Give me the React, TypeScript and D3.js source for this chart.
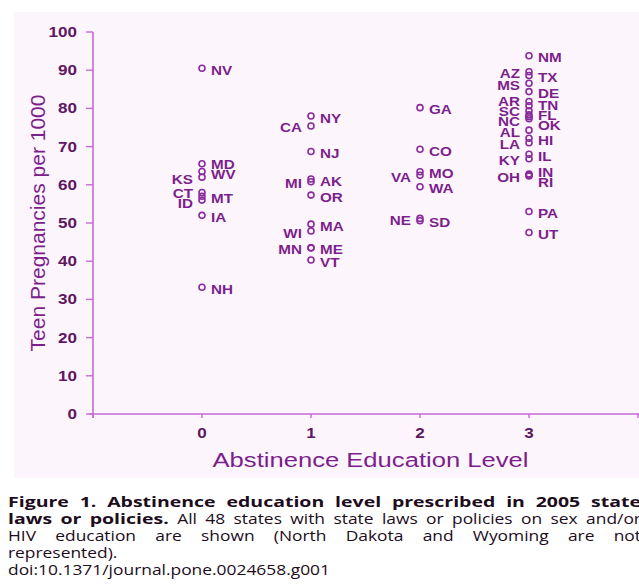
import React, { useMemo } from 'react';
import * as d3 from 'd3';

// ---------- data ----------
const states = [
  'NV', 'MD', 'WV', 'KS', 'CT', 'MT', 'ID', 'IA', 'NH',
  'NY', 'CA', 'NJ', 'AK', 'MI', 'OR', 'MA', 'WI', 'ME', 'MN', 'VT',
  'GA', 'CO', 'MO', 'VA', 'WA', 'NE', 'SD',
  'NM', 'AZ', 'TX', 'MS', 'DE', 'AR', 'TN', 'SC', 'FL', 'NC', 'OK', 'AL', 'HI', 'LA', 'IL', 'KY', 'IN', 'OH', 'RI', 'PA', 'UT',
];
const levels = [
  0, 0, 0, 0, 0, 0, 0, 0, 0,
  1, 1, 1, 1, 1, 1, 1, 1, 1, 1, 1,
  2, 2, 2, 2, 2, 2, 2,
  3, 3, 3, 3, 3, 3, 3, 3, 3, 3, 3, 3, 3, 3, 3, 3, 3, 3, 3, 3, 3,
];
const rates = [
  90.5, 65.5, 63.5, 62, 58, 57, 56, 52, 33.2,
  78, 75.4, 68.7, 61.5, 60.8, 57.3, 49.7, 47.9, 43.5, 43.5, 40.3,
  80.2, 69.3, 63.4, 62.5, 59.5, 51.2, 50.6,
  93.8, 89.6, 88.6, 86.6, 84.4, 81.8, 80.7, 79.4, 78.3, 77.8, 77.3, 74.3, 72.2, 71, 68, 66.8, 62.8, 62.5, 62.3, 53, 47.5,
];
const labelSides = [
  'R', 'R', 'R', 'L', 'L', 'R', 'L', 'R', 'R',
  'R', 'L', 'R', 'R', 'L', 'R', 'R', 'L', 'R', 'L', 'R',
  'R', 'R', 'R', 'L', 'R', 'L', 'R',
  'R', 'L', 'R', 'L', 'R', 'L', 'R', 'L', 'R', 'L', 'R', 'L', 'R', 'L', 'R', 'L', 'R', 'L', 'R', 'R', 'R',
];
const yTicks = [0, 10, 20, 30, 40, 50, 60, 70, 80, 90, 100];
const xTicks = [-1, 0, 1, 2, 3, 4];
const xTickLabels = ['', '0', '1', '2', '3', ''];
const xTitle = 'Abstinence Education Level';
const yTitle = 'Teen Pregnancies per 1000';
const captionBold = ['Figure 1. Abstinence education level prescribed in 2005 state', 'laws or policies.', '', '', ''];
const captionRegular = ['', 'All 48 states with state laws or policies on sex and/or', 'HIV education are shown (North Dakota and Wyoming are not', 'represented).', 'doi:10.1371/journal.pone.0024658.g001'];
const captionJustify = [true, true, true, false, false];

// ---------- style ----------
const W = 639;
const H = 588;
const STRETCH = 1.22;
const CHART_FONT = '"Liberation Sans", Arial, Helvetica, sans-serif';
const CAP_FONT = '"Open Sans", "Noto Sans", sans-serif';
const LABEL_COLOR = '#7c1f8c';
const TICK_COLOR = '#5e1762';
const AXIS_COLOR = '#c46bd4';
const POINT_COLOR = '#8a2a9c';
const CAP_COLOR = '#1c0c1c';

let ctx: CanvasRenderingContext2D | null = null;
function measure(text: string, bold: boolean, size: number): number {
  if (!ctx && typeof document !== 'undefined') ctx = document.createElement('canvas').getContext('2d');
  if (!ctx) return text.length * size * 0.55;
  ctx.font = `${bold ? 700 : 400} ${size}px ${CAP_FONT}`;
  return ctx.measureText(text).width;
}

export default function App() {
  const x = d3.scaleLinear().domain([-1, 4]).range([93, 638]);
  const y = d3.scaleLinear().domain([0, 100]).range([414, 32]);

  const labels = useMemo(() => {
    const out: { i: number; ly: number }[] = [];
    const groups = d3.group(states.map((_, i) => i), (i) => `${levels[i]}-${labelSides[i]}`);
    const gap = 10;
    groups.forEach((idx) => {
      const items = idx.map((i) => ({ i, ly: y(rates[i]) + 2 })).sort((a, b) => a.ly - b.ly);
      for (let it = 0; it < 100; it++) {
        for (let k = 1; k < items.length; k++) {
          const d = items[k].ly - items[k - 1].ly;
          if (d < gap) {
            const s = (gap - d) / 2;
            items[k - 1].ly -= s;
            items[k].ly += s;
          }
        }
      }
      out.push(...items);
    });
    return out;
  }, []);

  const caption = useMemo(() => {
    const regSize = 14.5;
    const boldSize = 15;
    const regCs = 1.2;
    const boldCs = 1.3;
    const left = 8;
    const right = 641;
    const baselines = [507, 524, 541, 558, 575];
    const words: { t: string; b: boolean; x: number; y: number }[] = [];
    captionBold.forEach((bt, li) => {
      const ws = [
        ...(bt ? bt.split(' ').map((t) => ({ t, b: true })) : []),
        ...(captionRegular[li] ? captionRegular[li].split(' ').map((t) => ({ t, b: false })) : []),
      ];
      const widths = ws.map((w) =>
        w.b ? measure(w.t, true, boldSize) * boldCs : measure(w.t, false, regSize) * regCs
      );
      const spaceW = measure(' ', false, regSize) * regCs;
      let gapW = spaceW;
      if (captionJustify[li] && ws.length > 1) {
        const total = d3.sum(widths);
        gapW = Math.max(3, (right - left - total) / (ws.length - 1));
      }
      let cx = left;
      ws.forEach((w, k) => {
        words.push({ t: w.t, b: w.b, x: cx, y: baselines[li] });
        cx += widths[k] + gapW;
      });
    });
    return { words, regSize, boldSize, regCs, boldCs };
  }, []);

  return (
    <svg
      width={W}
      height={H}
      style={{ position: 'absolute', left: 0, top: 0, background: '#ffffff' }}
      xmlns="http://www.w3.org/2000/svg"
    >
      <rect x={14} y={12} width={W - 14} height={466} fill="#fcf6fc" />

      {/* axes */}
      <line x1={x(-1)} x2={x(-1)} y1={y(100)} y2={y(0) + 4} stroke={AXIS_COLOR} strokeWidth={1.6} />
      <line x1={x(-1) - 4} x2={W} y1={y(0)} y2={y(0)} stroke={AXIS_COLOR} strokeWidth={1.6} />
      {yTicks.map((t) => (
        <g key={`yt${t}`}>
          <line x1={x(-1) - 7} x2={x(-1)} y1={y(t)} y2={y(t)} stroke={AXIS_COLOR} strokeWidth={1.4} />
          <text
            transform={`translate(${x(-1) - 16},${y(t)}) scale(${STRETCH},1)`}
            dy="0.36em"
            textAnchor="end"
            fontFamily={CHART_FONT}
            fontWeight={700}
            fontSize={14}
            fill={TICK_COLOR}
          >
            {t}
          </text>
        </g>
      ))}
      {xTicks.map((t, k) => (
        <g key={`xt${t}`}>
          <line x1={x(t)} x2={x(t)} y1={y(0)} y2={y(0) + 4} stroke={AXIS_COLOR} strokeWidth={1.4} />
          {xTickLabels[k] && (
            <text
              transform={`translate(${x(t)},${y(0) + 19}) scale(${STRETCH},1)`}
              dy="0.36em"
              textAnchor="middle"
              fontFamily={CHART_FONT}
              fontWeight={700}
              fontSize={14}
              fill={TICK_COLOR}
            >
              {xTickLabels[k]}
            </text>
          )}
        </g>
      ))}

      {/* titles */}
      <text
        transform={`translate(${(x(0) + x(3)) / 2 + 5},467) scale(${STRETCH},1)`}
        textAnchor="middle"
        fontFamily={CHART_FONT}
        fontSize={21}
        fill={LABEL_COLOR}
      >
        {xTitle}
      </text>
      <text
        transform={`translate(45,${223}) rotate(-90)`}
        textAnchor="middle"
        fontFamily={CHART_FONT}
        fontSize={21}
        fill={LABEL_COLOR}
      >
        {yTitle}
      </text>

      {/* points */}
      {states.map((s, i) => (
        <circle
          key={`p${s}`}
          cx={x(levels[i])}
          cy={y(rates[i])}
          r={3}
          fill="none"
          stroke={POINT_COLOR}
          strokeWidth={1.6}
        />
      ))}

      {/* labels */}
      {labels.map(({ i, ly }) => {
        const right = labelSides[i] === 'R';
        const lx = x(levels[i]) + (right ? 9 : -9);
        return (
          <text
            key={`l${states[i]}`}
            transform={`translate(${lx},${ly}) scale(${STRETCH},1)`}
            dy="0.36em"
            textAnchor={right ? 'start' : 'end'}
            fontFamily={CHART_FONT}
            fontWeight={700}
            fontSize={12.5}
            fill={LABEL_COLOR}
          >
            {states[i]}
          </text>
        );
      })}

      {/* caption */}
      {caption.words.map((w, k) => (
        <text
          key={`c${k}`}
          transform={`translate(${w.x},${w.y}) scale(${w.b ? caption.boldCs : caption.regCs},1)`}
          fontFamily={CAP_FONT}
          fontWeight={w.b ? 700 : 400}
          fontSize={w.b ? caption.boldSize : caption.regSize}
          fill={CAP_COLOR}
        >
          {w.t}
        </text>
      ))}
    </svg>
  );
}
